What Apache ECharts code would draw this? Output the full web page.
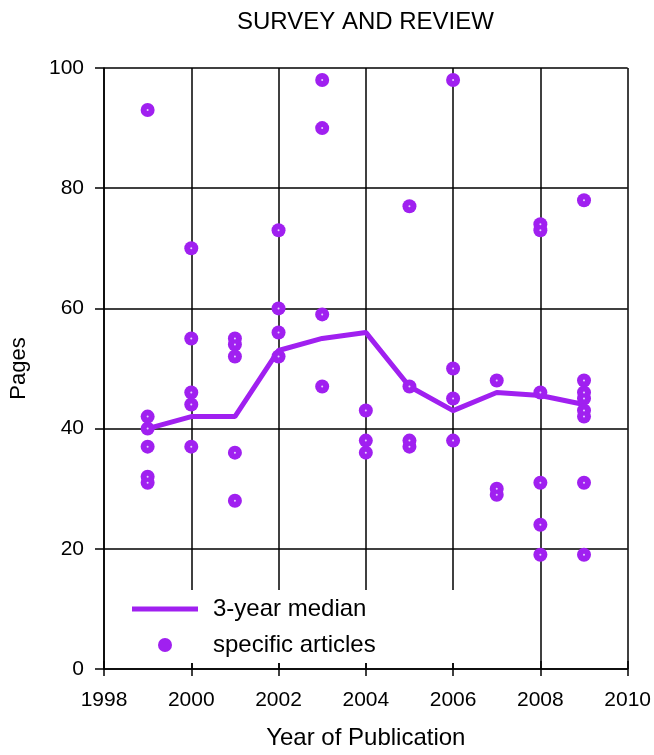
<!DOCTYPE html>
<html>
<head>
<meta charset="utf-8">
<script src="https://cdn.jsdelivr.net/npm/echarts@6/dist/echarts.min.js"></script>
<style>
  html, body { margin: 0; padding: 0; background: #fff; }
  #chart { width: 654px; height: 755px; }
</style>
</head>
<body>
<div id="chart"></div>
<script>
// 年份与中位数
const years = [1999, 2000, 2001, 2002, 2003, 2004, 2005, 2006, 2007, 2008, 2009]
const medianPages = [40, 42, 42, 53, 55, 56, 47, 43, 46, 45.5, 44]

// 每年各篇文章的页数
const articlePages = [
  [93, 42, 40, 37, 32, 31],
  [70, 55, 46, 44, 37],
  [55, 54, 52, 36, 28],
  [73, 60, 56, 52],
  [98, 90, 59, 47],
  [43, 38, 36],
  [77, 47, 38, 37],
  [98, 50, 45, 38],
  [48, 30, 29],
  [74, 73, 46, 31, 24, 19],
  [78, 48, 46, 45, 43, 42, 31, 19]
]

const xTicks = [1998, 2010, 2]
const yTicks = [0, 100, 20]

const purple = '#A020F0'
const font = "'Liberation Sans', Arial, Helvetica, sans-serif"

let medianData = years.map((y, i) => [y, medianPages[i]])
let articleData = []
years.forEach((y, i) => {
  articlePages[i].forEach(v => articleData.push([y, v]))
})

let chart = echarts.init(document.getElementById('chart'))
let option = {
  animation: false,
  title: {
    text: 'SURVEY AND REVIEW',
    left: 232,
    top: 5,
    textStyle: { fontFamily: font, fontSize: 24, fontWeight: 'normal', color: '#000' }
  },
  legend: {
    orient: 'vertical',
    left: 108,
    top: 590,
    padding: [7, 100, 6, 24],
    itemGap: 12,
    itemWidth: 66,
    itemHeight: 14,
    backgroundColor: '#fff',
    textStyle: { fontFamily: font, fontSize: 24, color: '#000', padding: [0, 0, 0, 10] },
    data: [
      { name: '3-year median', icon: 'path://M0 0H66V5H0Z', itemStyle: { color: purple } },
      { name: 'specific articles', icon: 'circle', itemStyle: { color: purple } }
    ]
  },
  grid: { left: 104, right: 26, top: 68, bottom: 84 },
  xAxis: [
    {
      type: 'value',
      min: xTicks[0], max: xTicks[1], interval: xTicks[2],
      name: 'Year of Publication',
      nameLocation: 'middle',
      nameGap: 57,
      nameTextStyle: { fontFamily: font, fontSize: 24, color: '#000' },
      axisLine: { lineStyle: { color: '#000', width: 1.5 } },
      axisTick: { show: true, length: 7, lineStyle: { color: '#000', width: 1.5 } },
      axisLabel: { fontFamily: font, fontSize: 21, color: '#000', margin: 21, formatter: v => String(v) },
      splitLine: { show: true, lineStyle: { color: '#000', width: 1.5 } }
    },
    {
      type: 'value',
      position: 'bottom',
      min: xTicks[0], max: xTicks[1], interval: xTicks[2],
      axisLine: { show: false },
      axisTick: { show: true, inside: true, length: 8, lineStyle: { color: '#000', width: 1.5 } },
      axisLabel: { show: false },
      splitLine: { show: false }
    }
  ],
  yAxis: {
    type: 'value',
    min: yTicks[0], max: yTicks[1], interval: yTicks[2],
    name: 'Pages',
    nameLocation: 'middle',
    nameGap: 74,
    nameTextStyle: { fontFamily: font, fontSize: 22, color: '#000' },
    axisLine: { show: true, lineStyle: { color: '#000', width: 1.5 } },
    axisTick: { show: true, length: 9, lineStyle: { color: '#000', width: 1.5 } },
    axisLabel: { fontFamily: font, fontSize: 21, color: '#000', margin: 20 },
    splitLine: { show: true, lineStyle: { color: '#000', width: 1.5 } }
  },
  series: [
    {
      name: '3-year median',
      type: 'line',
      data: medianData,
      symbol: 'none',
      lineStyle: { color: purple, width: 5 },
      itemStyle: { color: purple },
      z: 2
    },
    {
      name: 'specific articles',
      type: 'scatter',
      data: articleData,
      symbol: 'circle',
      symbolSize: 14,
      itemStyle: { color: purple, opacity: 1 },
      z: 3
    },
    {
      name: 'centre',
      type: 'scatter',
      data: articleData,
      symbol: 'circle',
      symbolSize: 2,
      silent: true,
      itemStyle: { color: '#e8d0ff', opacity: 1 },
      z: 4
    }
  ]
}
chart.setOption(option)
</script>
</body>
</html>
